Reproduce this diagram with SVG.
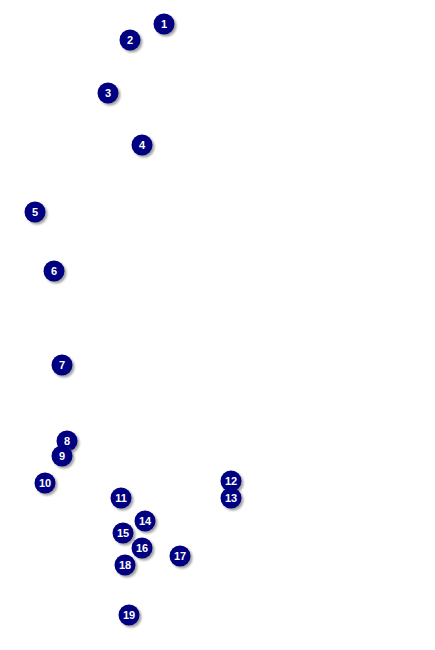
<svg xmlns="http://www.w3.org/2000/svg" width="435" height="650" viewBox="0 0 435 650">
<defs>
<style>
.s{fill:#8a8a8a;opacity:0.8}
.c{fill:#000080}
.t{fill:#fff;font-family:"Liberation Sans",Arial,sans-serif;font-weight:bold;font-size:11px;text-anchor:middle;dominant-baseline:central}
</style>
<filter id="b" x="-50%" y="-50%" width="200%" height="200%"><feGaussianBlur stdDeviation="0.8"/></filter>
</defs>
<rect width="435" height="650" fill="#fff"/>
<g id="n1" transform="translate(164,24)"><circle class="s" cx="2" cy="2" r="10.5" filter="url(#b)"/><circle class="c" r="10.5"/><text class="t">1</text></g>
<g id="n2" transform="translate(130,40)"><circle class="s" cx="2" cy="2" r="10.5" filter="url(#b)"/><circle class="c" r="10.5"/><text class="t">2</text></g>
<g id="n3" transform="translate(108,93)"><circle class="s" cx="2" cy="2" r="10.5" filter="url(#b)"/><circle class="c" r="10.5"/><text class="t">3</text></g>
<g id="n4" transform="translate(142,145)"><circle class="s" cx="2" cy="2" r="10.5" filter="url(#b)"/><circle class="c" r="10.5"/><text class="t">4</text></g>
<g id="n5" transform="translate(35,212)"><circle class="s" cx="2" cy="2" r="10.5" filter="url(#b)"/><circle class="c" r="10.5"/><text class="t">5</text></g>
<g id="n6" transform="translate(54,271)"><circle class="s" cx="2" cy="2" r="10.5" filter="url(#b)"/><circle class="c" r="10.5"/><text class="t">6</text></g>
<g id="n7" transform="translate(62,365)"><circle class="s" cx="2" cy="2" r="10.5" filter="url(#b)"/><circle class="c" r="10.5"/><text class="t">7</text></g>
<g id="n8" transform="translate(67,441)"><circle class="s" cx="2" cy="2" r="10.5" filter="url(#b)"/><circle class="c" r="10.5"/><text class="t">8</text></g>
<g id="n9" transform="translate(62,456)"><circle class="s" cx="2" cy="2" r="10.5" filter="url(#b)"/><circle class="c" r="10.5"/><text class="t">9</text></g>
<g id="n10" transform="translate(45,483)"><circle class="s" cx="2" cy="2" r="10.5" filter="url(#b)"/><circle class="c" r="10.5"/><text class="t">10</text></g>
<g id="n11" transform="translate(121,498)"><circle class="s" cx="2" cy="2" r="10.5" filter="url(#b)"/><circle class="c" r="10.5"/><text class="t">11</text></g>
<g id="n12" transform="translate(231,481)"><circle class="s" cx="2" cy="2" r="10.5" filter="url(#b)"/><circle class="c" r="10.5"/><text class="t">12</text></g>
<g id="n13" transform="translate(231,498)"><circle class="s" cx="2" cy="2" r="10.5" filter="url(#b)"/><circle class="c" r="10.5"/><text class="t">13</text></g>
<g id="n14" transform="translate(145,521)"><circle class="s" cx="2" cy="2" r="10.5" filter="url(#b)"/><circle class="c" r="10.5"/><text class="t">14</text></g>
<g id="n15" transform="translate(123,533)"><circle class="s" cx="2" cy="2" r="10.5" filter="url(#b)"/><circle class="c" r="10.5"/><text class="t">15</text></g>
<g id="n16" transform="translate(142,548)"><circle class="s" cx="2" cy="2" r="10.5" filter="url(#b)"/><circle class="c" r="10.5"/><text class="t">16</text></g>
<g id="n17" transform="translate(180,556)"><circle class="s" cx="2" cy="2" r="10.5" filter="url(#b)"/><circle class="c" r="10.5"/><text class="t">17</text></g>
<g id="n18" transform="translate(125,565)"><circle class="s" cx="2" cy="2" r="10.5" filter="url(#b)"/><circle class="c" r="10.5"/><text class="t">18</text></g>
<g id="n19" transform="translate(129,615)"><circle class="s" cx="2" cy="2" r="10.5" filter="url(#b)"/><circle class="c" r="10.5"/><text class="t">19</text></g>
<g id="connectors"/>
</svg>
